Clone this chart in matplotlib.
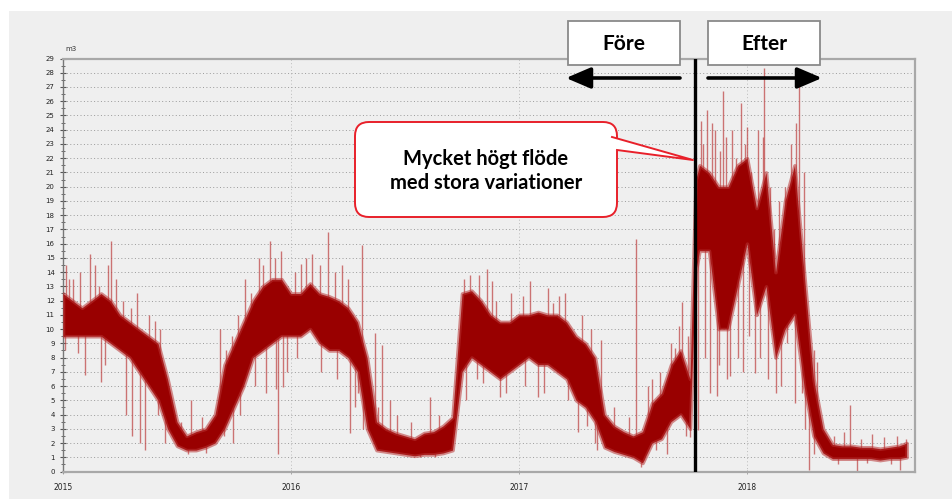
import numpy as np
import matplotlib
matplotlib.use("Agg")
import matplotlib.pyplot as plt
from matplotlib.patches import FancyBboxPatch, Polygon, Rectangle, FancyArrowPatch
from matplotlib.lines import Line2D
from matplotlib.ticker import MultipleLocator

# ---------------- data ----------------
# time axis: months since 2015-01-01 (half-month samples)
t_months = np.concatenate([np.arange(0, 33.5, 0.5), [33.3], np.arange(33.5, 44.5, 0.5), [44.4]])

# lower / upper edge of the dense flow band (m3)
flow_low = [
    # 2015
    9.5, 9.5, 9.5, 9.5, 9.5, 9, 8.5, 8, 7, 6, 5, 3, 1.8, 1.5, 1.5, 1.7, 2, 3, 4.5, 6, 8, 8.5, 9, 9.5,
    # 2016
    9.5, 9.5, 10, 9, 8.5, 8.5, 8, 7, 3, 1.5, 1.4, 1.3, 1.2, 1.1, 1.2, 1.2, 1.3, 1.5, 7, 8, 7.5, 7, 6.5, 7,
    # 2017
    7.5, 8, 7.5, 7.5, 7, 6.5, 5, 4.5, 3.5, 1.7, 1.4, 1.2, 1.0, 0.6, 2.0, 2.3, 3.5, 4, 3,
    14, 15.5, 15.5, 10, 10, 13,
    # 2018
    16, 11, 13, 8, 10, 11, 6, 2.5, 1.3, 0.9, 0.9, 0.9, 0.9, 0.9, 0.8, 0.9, 0.9, 1.0,
]
flow_high = [
    # 2015
    12.5, 12, 11.5, 12, 12.5, 12, 11, 10.5, 10, 9.5, 9, 6.5, 3.5, 2.5, 2.8, 3, 4, 7.5, 9, 10.5, 12, 13, 13.5, 13.5,
    # 2016
    12.5, 12.5, 13.2, 12.5, 12.3, 12, 11.5, 10.5, 8, 3.5, 3, 2.7, 2.5, 2.3, 2.7, 2.8, 3.2, 3.8, 12.5, 12.7, 12, 11, 10.5, 10.5,
    # 2017
    11, 11, 11.2, 11, 11, 10.5, 9.5, 9, 8, 4, 3.2, 2.8, 2.5, 2.8, 4.8, 5.5, 7.5, 8.5, 6.5,
    20.5, 21.5, 21, 20, 20, 21.5,
    # 2018
    22, 18.5, 21, 14, 19, 21.5, 14, 6.5, 3, 1.9, 1.8, 1.8, 1.7, 1.7, 1.6, 1.7, 1.8, 2.0,
]

# single spikes (month since 2015-01-01, value)
spike_months = [
    # 2015
    0.15, 0.5, 0.8, 1.15, 1.4, 1.7, 2.0, 2.35, 2.55, 3.15, 3.3, 3.6, 3.65, 4.05, 4.3, 4.85, 5.1, 5.35,
    6.75, 8.25, 8.9, 8.95, 9.6, 10.5, 10.9, 11.15, 11.3, 11.2,
    0.3, 0.9, 1.9, 2.8, 3.9, 4.5, 0.1, 2.2, 4.6, 5.0,
    6.2, 7.3, 7.8, 6.6, 7.5,
    8.6, 9.2, 9.9, 10.3, 11.5, 8.5, 9.3, 10.1, 10.7, 11.8,
    # 2016
    11.6, 12.5, 13.1, 13.95, 14.7, 15.1, 15.35, 15.75, 16.4, 16.8, 17.2, 19.3, 21.4, 22.3, 22.6, 23.3, 21.8,
    12.2, 12.8, 13.5, 14.3, 15.0, 12.3, 13.6, 14.4, 15.5, 15.8,
    16.6, 17.6, 18.3, 19.8, 20.6, 18.8, 19.6,
    21.1, 21.9, 22.8, 23.6, 21.2, 22.1, 23.0,
    # 2017
    24.6, 25.0, 25.5, 26.1, 27.1, 28.3, 28.1, 30.15, 30.4, 31.8, 32.2, 32.6, 33.0, 31.0,
    24.2, 25.8, 26.4, 27.3, 27.8, 24.3, 25.3, 26.6, 27.6, 28.0,
    29.0, 29.8, 30.8, 31.4, 32.0, 32.4, 32.9, 30.6, 31.2, 32.8,
    # after the change
    33.4, 33.6, 33.9, 34.05, 34.15, 34.4, 34.75, 35.1, 35.2, 35.7, 36.0, 36.4, 36.9, 36.85, 37.5,
    38.3, 38.5, 38.75, 39.25, 39.7, 41.4, 41.8, 44.05, 44.35,
    33.7, 34.3, 34.6, 34.9, 35.4, 35.9, 36.2, 36.6, 37.2, 37.7, 37.4, 38.0, 38.6, 39.0, 39.5,
    33.8, 34.55, 34.95, 35.5, 35.8, 36.1, 36.7, 37.1, 37.8, 38.1, 38.9, 39.05, 39.55,
    40.6, 41.1, 42.0, 42.6, 43.2, 43.9, 40.8, 42.3, 43.6,
]
spike_values = [
    # 2015
    14.5, 13.5, 8.3, 6.8, 15.3, 14.5, 6.3, 14.5, 16.2, 12, 4.0, 11.5, 2.5, 2.0, 1.5, 10.6, 10.0, 2.0,
    5.0, 10.0, 9.5, 2.0, 13.5, 14.5, 16.2, 15.0, 1.2, 5.8,
    13.5, 14, 13, 13.5, 12.5, 11, 8.5, 7.5, 6.5, 4,
    3.5, 3.8, 3.5, 1.2, 1.3,
    8.5, 11, 12.5, 15, 15.5, 2.5, 4, 6, 5.5, 7,
    # 2016
    5.9, 14.6, 15.3, 16.8, 14.5, 2.7, 4.5, 15.9, 9.7, 8.9, 5.0, 5.2, 13.8, 14.2, 13.4, 5.5, 6.5,
    14, 15, 14.5, 14, 13.5, 8, 7, 6.5, 5.5, 3,
    4.5, 4, 3.5, 4, 3.8, 1.0, 1.0,
    13.5, 13.8, 12, 12.5, 5, 6.2, 5.2,
    # 2017
    13.4, 5.2, 12.9, 12.3, 2.8, 9.2, 1.5, 16.3, 0.3, 1.2, 8.7, 11.9, 2.4, 6.5,
    12.3, 11.8, 12.5, 11, 10, 6, 5.5, 5, 3.2, 2,
    4.5, 3.8, 6, 7, 9, 10.2, 9.5, 0.8, 1.5, 2.5,
    # after the change
    2.9, 24.6, 25.4, 5.5, 24.5, 5.3, 26.7, 6.7, 24.0, 25.9, 24.2, 6.9, 28.3, 23.5, 5.5,
    23.0, 4.8, 27.2, 0.1, 7.7, 4.7, 0.0, 0.1, 2.3,
    23, 24, 22.5, 23.5, 22, 23, 21, 24, 20, 19, 17, 20, 24.5, 21, 8.5,
    8, 7.5, 6.5, 8, 7, 9.5, 8, 6.5, 6, 9, 5.5, 3, 1.2,
    2.5, 2.8, 2.3, 2.6, 2.4, 2.5, 0.5, 0.6, 0.5,
]

year_ticks = [2015, 2016, 2017, 2018]
unit_label = "m3"
change_month = 33.26
label_before = "Före"
label_after = "Efter"
callout_text = "Mycket högt flöde\nmed stora variationer"

# ---------------- figure ----------------
W, H, DPI = 952, 499, 100
fig = plt.figure(figsize=(W / DPI, H / DPI), dpi=DPI, facecolor="white")
fig.add_artist(Rectangle((9 / W, 0), 1, 1 - 11 / H, transform=fig.transFigure,
                         facecolor="#efefef", edgecolor="none", zorder=0))

ax = fig.add_axes([63 / W, 1 - 471.5 / H, (915 - 63) / W, (471.5 - 58.5) / H])
ax.set_facecolor("#efefef")

years = 2015 + t_months / 12.0
lo = np.array(flow_low)
hi = np.array(flow_high)
ax.fill_between(years, lo, hi, facecolor="#990000", edgecolor=(0.72, 0.2, 0.2, 0.55),
                linewidth=2.6, zorder=3)

sx = 2015 + np.array(spike_months) / 12.0
sv = np.array(spike_values)
base = np.interp(sx, years, (lo + hi) / 2)
ax.vlines(sx, base, sv, color="#c04a4a", linewidth=1.0, alpha=0.75, zorder=2.5)

ax.set_xlim(2015, 2015 + (915 - 63) / 228)
ax.set_ylim(0, 29)
ax.set_xticks(year_ticks)
ax.set_xticklabels([str(y) for y in year_ticks])
ax.yaxis.set_major_locator(MultipleLocator(1))
ax.yaxis.set_minor_locator(MultipleLocator(0.5))
ax.tick_params(axis="y", which="major", direction="inout", length=4, width=0.8,
               labelsize=5, colors="#555555", labelcolor="#222222", pad=4)
ax.tick_params(axis="y", which="minor", direction="inout", length=3, width=0.6, colors="#555555")
ax.tick_params(axis="x", which="major", direction="inout", length=3, width=0.6,
               labelsize=5.5, colors="#999999", labelcolor="#222222", pad=7)

ax.grid(axis="y", which="major", linestyle=(0, (1, 2.5)), color="#9a9a9a", linewidth=0.7, zorder=1)
ax.grid(axis="x", which="major", linestyle=(0, (1, 2.5)), color="#bbbbbb", linewidth=0.7, zorder=1)
ax.set_axisbelow(True)

for side in ["top", "right", "bottom"]:
    ax.spines[side].set_color("#a8a8a8")
    ax.spines[side].set_linewidth(1.6)
ax.spines["left"].set_color("#777777")
ax.spines["left"].set_linewidth(1.0)

fig.text(65 / W, 1 - 49 / H, unit_label, fontsize=5, color="#333333", va="center", ha="left")

# change line
ax.axvline(2015 + change_month / 12.0, color="black", linewidth=2.4, zorder=5)

# ---------------- annotations (figure inches) ----------------
tr = fig.dpi_scale_trans


def px(x, y):
    return (x / DPI, (H - y) / DPI)


font = ["Lato", "DejaVu Sans"]

for (x0, x1, label) in [(568, 680, label_before), (708, 820, label_after)]:
    fig.add_artist(Rectangle(px(x0, 65), (x1 - x0) / DPI, 44 / DPI, transform=tr,
                             facecolor="white", edgecolor="#8a8a8a", linewidth=1.3, zorder=10))
    cx, cy = px((x0 + x1) / 2, 44)
    fig.text(cx, cy, label, transform=tr, ha="center", va="center", fontsize=15,
             fontweight="bold", family=font, color="black", zorder=11)

for (xa, xb) in [(680, 566), (708, 822)]:
    fig.add_artist(FancyArrowPatch(px(xa, 78), px(xb, 78), transform=tr,
                                   arrowstyle="-|>,head_length=0.75,head_width=0.32",
                                   mutation_scale=20, color="black", linewidth=2.6,
                                   shrinkA=0, shrinkB=0, zorder=10))

# callout
bx0, by0 = px(355, 217)
fig.add_artist(FancyBboxPatch((bx0, by0), (617 - 355) / DPI, (217 - 122) / DPI,
                              boxstyle="round,pad=0,rounding_size=0.14", transform=tr,
                              facecolor="white", edgecolor="#e8202a", linewidth=1.4, zorder=10))
p1, p2, tip = px(612, 137), px(612, 150), px(693, 160)
fig.add_artist(Polygon([p1, tip, p2, px(600, 150), px(600, 137)], closed=True, transform=tr,
                       facecolor="white", edgecolor="none", zorder=11))
fig.add_artist(Line2D([p1[0], tip[0], px(617, 150)[0]], [p1[1], tip[1], px(617, 150)[1]],
                      transform=tr, color="#e8202a", linewidth=1.4, zorder=12))
cx, cy = px(486, 171)
fig.text(cx, cy, callout_text, transform=tr, ha="center", va="center", fontsize=14.5,
         fontweight="bold", family=font, color="black", linespacing=1.2, zorder=13)

fig.savefig("out.png", dpi=DPI, facecolor="white")
